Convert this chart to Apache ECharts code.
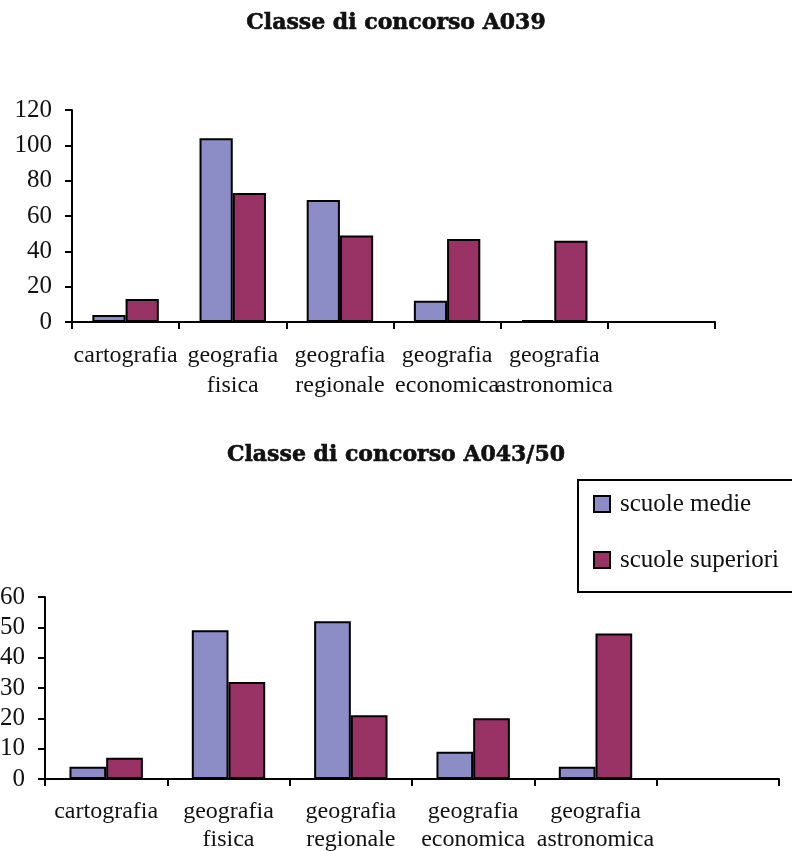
<!DOCTYPE html>
<html>
<head>
<meta charset="utf-8">
<script src="https://cdn.jsdelivr.net/npm/echarts@6/dist/echarts.min.js"></script>
<style>
  html, body { margin: 0; padding: 0; background: #fff; }
  #chart { width: 792px; height: 851px; }
</style>
</head>
<body>
<div id="chart"></div>
<script>
// Argomenti di geografia (l'ultima categoria è vuota, come nel grafico originale)
const categories = ['cartografia', 'geografia\nfisica', 'geografia\nregionale', 'geografia\neconomica', 'geografia\nastronomica', ''];

// Classe di concorso A039
const a039Medie = [4, 104, 69, 12, 1, null];
const a039Superiori = [13, 73, 49, 47, 46, null];

// Classe di concorso A043/50
const a043Medie = [4, 49, 52, 9, 4, null];
const a043Superiori = [7, 32, 21, 20, 48, null];

const seriesNames = ['scuole medie', 'scuole superiori'];
const titles = ['Classe di concorso A039', 'Classe di concorso A043/50'];
const colors = ['#8C8CC6', '#993366'];

const serif = '"Liberation Serif", "DejaVu Serif", serif';

function xAxisFor(gridIndex, lineHeight, margin) {
  return {
    type: 'category',
    gridIndex: gridIndex,
    data: categories,
    boundaryGap: true,
    axisLine: { lineStyle: { color: '#000', width: 2 } },
    axisTick: { show: true, interval: 0, length: 7, lineStyle: { color: '#000', width: 2 } },
    axisLabel: {
      interval: 0, color: '#111', fontFamily: serif, fontSize: 24,
      lineHeight: lineHeight, margin: margin
    },
    splitLine: { show: false }
  };
}

function yAxisFor(gridIndex, max, interval) {
  return {
    type: 'value',
    gridIndex: gridIndex,
    min: 0, max: max, interval: interval,
    axisLine: { show: true, lineStyle: { color: '#000', width: 2 } },
    axisTick: { show: true, length: 7, lineStyle: { color: '#000', width: 2 } },
    axisLabel: { color: '#111', fontFamily: serif, fontSize: 25, margin: 20 },
    splitLine: { show: false }
  };
}

function barSeries(name, data, idx, color, gap) {
  return {
    name: name,
    type: 'bar',
    xAxisIndex: idx,
    yAxisIndex: idx,
    data: data,
    barGap: '0%',
    barCategoryGap: gap,
    itemStyle: { color: color, borderColor: '#000', borderWidth: 2 }
  };
}

const titleStyle = {
  fontFamily: '"DejaVu Serif", serif', fontWeight: 'bold', fontSize: 22, color: '#111',
  textBorderColor: '#111', textBorderWidth: 0.6
};

const chart = echarts.init(document.getElementById('chart'), null, { renderer: 'canvas' });

chart.setOption({
  backgroundColor: '#fff',
  animation: false,
  title: [
    { text: titles[0], left: 'center', top: 7, textStyle: titleStyle },
    { text: titles[1], left: 'center', top: 439, textStyle: titleStyle }
  ],
  legend: {
    data: seriesNames,
    orient: 'vertical',
    left: 578, top: 480,
    padding: [11, 40, 19, 15],
    itemGap: 30,
    itemWidth: 16, itemHeight: 16,
    icon: 'rect',
    borderColor: '#000', borderWidth: 2,
    itemStyle: { borderColor: '#000', borderWidth: 2 },
    textStyle: { fontFamily: serif, fontSize: 25, color: '#111', lineHeight: 26, padding: [0, 0, 0, 5] }
  },
  grid: [
    { left: 72, top: 110, width: 643, height: 212, outerBoundsMode: 'none' },
    { left: 45, top: 597, width: 734, height: 182, outerBoundsMode: 'none' }
  ],
  xAxis: [xAxisFor(0, 30, 19), xAxisFor(1, 28, 19)],
  yAxis: [yAxisFor(0, 120, 20), yAxisFor(1, 60, 10)],
  series: [
    barSeries(seriesNames[0], a039Medie, 0, colors[0], '38%'),
    barSeries(seriesNames[1], a039Superiori, 0, colors[1], '38%'),
    barSeries(seriesNames[0], a043Medie, 1, colors[0], '40%'),
    barSeries(seriesNames[1], a043Superiori, 1, colors[1], '40%')
  ]
});
</script>
</body>
</html>
